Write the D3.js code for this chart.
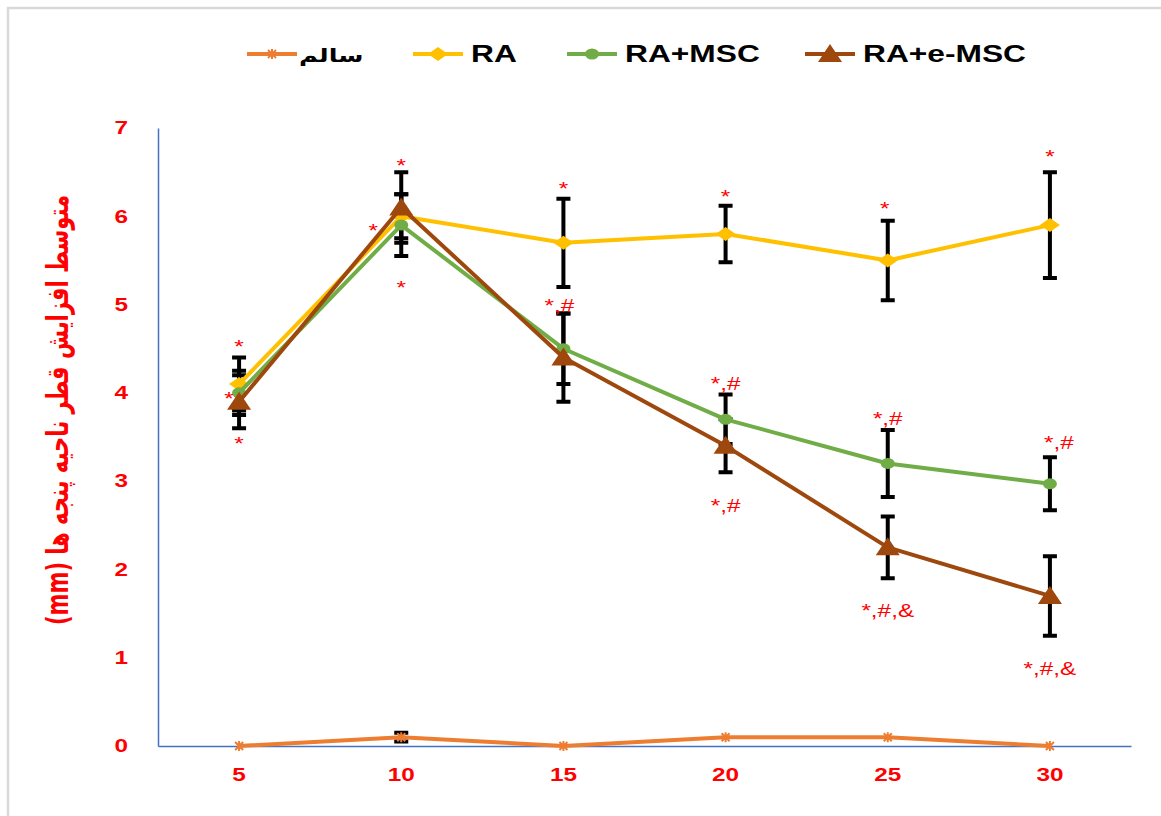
<!DOCTYPE html>
<html>
<head>
<meta charset="utf-8">
<script src="https://cdn.jsdelivr.net/npm/d3@7"></script>
<style>
  body { margin: 0; background: #fff; }
  svg { display: block; }
</style>
</head>
<body>
<div id="chart"></div>
<script>
// ---- data ----
const days = ["5", "10", "15", "20", "25", "30"];
const seriesNames = ["سالم", "RA", "RA+MSC", "RA+e-MSC"];
const healthy = [0, 0.1, 0, 0.1, 0.1, 0];
const healthySD = [0, 0.05, 0, 0, 0, 0];
const ra = [4.1, 6.0, 5.7, 5.8, 5.5, 5.9];
const raSD = [0.3, 0.25, 0.5, 0.32, 0.45, 0.6];
const raMsc = [4.0, 5.9, 4.5, 3.7, 3.2, 2.97];
const raMscSD = [0.25, 0.35, 0.4, 0.28, 0.38, 0.3];
const raEmsc = [3.9, 6.1, 4.4, 3.4, 2.25, 1.7];
const raEmscSD = [0.3, 0.4, 0.5, 0.3, 0.35, 0.45];
const yTicks = [0, 1, 2, 3, 4, 5, 6, 7];
// significance marks: day, y value of text baseline, label, small x nudge
const marks = [
  { day: "5", y: 4.45, t: "*", dx: 0 },
  { day: "5", y: 3.86, t: "*", dx: -10 },
  { day: "5", y: 3.35, t: "*", dx: 0 },
  { day: "10", y: 6.5, t: "*", dx: 0 },
  { day: "10", y: 5.76, t: "*", dx: -28 },
  { day: "10", y: 5.12, t: "*", dx: 0 },
  { day: "15", y: 6.24, t: "*", dx: 0 },
  { day: "15", y: 4.92, t: "*,#", dx: -4 },
  { day: "20", y: 6.15, t: "*", dx: 0 },
  { day: "20", y: 4.03, t: "*,#", dx: 0 },
  { day: "20", y: 2.65, t: "*,#", dx: 0 },
  { day: "25", y: 6.01, t: "*", dx: -3 },
  { day: "25", y: 3.64, t: "*,#", dx: 0 },
  { day: "25", y: 1.46, t: "*,#,&", dx: 0 },
  { day: "30", y: 6.6, t: "*", dx: 0 },
  { day: "30", y: 3.36, t: "*,#", dx: 9 },
  { day: "30", y: 0.8, t: "*,#,&", dx: 0 }
];

const colors = ["#ED7D31", "#FFC000", "#70AD47", "#9E480E"];
const shapes = ["times", "diamond", "circle", "triangle"];

const width = 1161, height = 816;
const plot = { left: 158, right: 1131, top: 128, bottom: 746 };
const sx = 1.35; // the original is stretched sideways

const svg = d3.select("#chart").append("svg")
  .attr("width", width).attr("height", height);

// frame of the picture
svg.append("path")
  .attr("d", `M8,${height + 5} V8 H${width + 5}`)
  .attr("fill", "none").attr("stroke", "#d9d9d9").attr("stroke-width", 2.5);

const x = d3.scaleBand().domain(days).range([plot.left, plot.right]).padding(0);
const cx = d => x(d) + x.bandwidth() / 2;
const y = d3.scaleLinear().domain([0, 7]).range([plot.bottom, plot.top]);

// axes
const yAxis = svg.append("g")
  .attr("transform", `translate(${plot.left},0)`)
  .call(d3.axisLeft(y).tickValues(yTicks).tickSize(0).tickPadding(30).tickFormat(d3.format("d")));
yAxis.select(".domain").attr("stroke", "#4472C4").attr("stroke-width", 1.5);
yAxis.selectAll("text")
  .attr("fill", "#FF0000").attr("font-family", "Liberation Sans, Arial, sans-serif")
  .attr("font-weight", "bold").attr("font-size", 18)
  .attr("x", -30 / sx).attr("transform", `scale(${sx},1)`);

const xAxis = svg.append("g")
  .attr("transform", `translate(0,${plot.bottom})`)
  .call(d3.axisBottom(x).tickSize(0).tickPadding(22));
xAxis.select(".domain").attr("stroke", "#4472C4").attr("stroke-width", 1.5);
xAxis.selectAll("text")
  .attr("fill", "#FF0000").attr("font-family", "Liberation Sans, Arial, sans-serif")
  .attr("font-weight", "bold").attr("font-size", 18)
  .attr("transform", `scale(${sx},1)`);

// y title
svg.append("text")
  .attr("transform", `translate(68,410) rotate(-90) scale(1,${sx})`)
  .attr("text-anchor", "middle")
  .attr("fill", "#FF0000")
  .attr("font-family", "DejaVu Sans, sans-serif")
  .attr("font-weight", "bold")
  .attr("font-size", 22)
  .attr("direction", "rtl")
  .attr("textLength", 430).attr("lengthAdjust", "spacingAndGlyphs")
  .text("متوسط افزایش قطر ناحیه پنجه ها (mm)");

const series = [
  { name: seriesNames[0], v: healthy, sd: healthySD },
  { name: seriesNames[1], v: ra, sd: raSD },
  { name: seriesNames[2], v: raMsc, sd: raMscSD },
  { name: seriesNames[3], v: raEmsc, sd: raEmscSD }
];

function marker(g, shape, color) {
  if (shape === "times") {
    g.append("path").attr("d", "M-4,-4L4,4M-4,4L4,-4M0,-5V5")
      .attr("stroke", color).attr("stroke-width", 2).attr("fill", "none");
  } else if (shape === "diamond") {
    g.append("path").attr("d", "M-10,0L0,-7L10,0L0,7Z").attr("fill", color);
  } else if (shape === "circle") {
    g.append("ellipse").attr("rx", 7).attr("ry", 5.5).attr("fill", color);
  } else {
    g.append("path").attr("d", "M-12,8L0,-10L12,8Z").attr("fill", color);
  }
}

// error bars
const eb = svg.append("g").attr("stroke", "#000").attr("stroke-width", 4).attr("fill", "none");
series.forEach(s => {
  s.v.forEach((v, i) => {
    if (!s.sd[i]) return;
    const xc = cx(days[i]), y0 = y(v - s.sd[i]), y1 = y(v + s.sd[i]);
    eb.append("path")
      .attr("d", `M${xc},${y0}V${y1}M${xc - 7},${y0}H${xc + 7}M${xc - 7},${y1}H${xc + 7}`);
  });
});

// lines and markers
const line = d3.line().x((d, i) => cx(days[i])).y(d => y(d));
series.forEach((s, k) => {
  svg.append("path").datum(s.v)
    .attr("d", line)
    .attr("fill", "none").attr("stroke", colors[k])
    .attr("stroke-width", 4).attr("stroke-linejoin", "round");
  s.v.forEach((v, i) => {
    const g = svg.append("g").attr("transform", `translate(${cx(days[i])},${y(v)})`);
    marker(g, shapes[k], colors[k]);
  });
});

// significance labels
svg.append("g").selectAll("text").data(marks).join("text")
  .attr("transform", d => `translate(${cx(d.day) + d.dx},${y(d.y)}) scale(${sx},1)`)
  .attr("text-anchor", "middle")
  .attr("fill", "#FF0000")
  .attr("font-family", "Liberation Sans, Arial, sans-serif")
  .attr("font-size", 18)
  .text(d => d.t);

// legend
const legendX = [247, 413, 567, 805];
const legend = svg.append("g").attr("transform", "translate(0,54)");
series.forEach((s, k) => {
  const g = legend.append("g").attr("transform", `translate(${legendX[k]},0)`);
  g.append("line").attr("x1", 0).attr("x2", 50)
    .attr("stroke", colors[k]).attr("stroke-width", 4);
  const m = g.append("g").attr("transform", "translate(25,0)");
  marker(m, shapes[k], colors[k]);
  g.append("text")
    .attr("transform", `translate(${k === 0 ? 52 : 58},8) scale(${sx},1)`)
    .attr("fill", "#000")
    .attr("font-family", k === 0 ? "DejaVu Sans, sans-serif" : "Liberation Sans, Arial, sans-serif")
    .attr("font-weight", "bold")
    .attr("font-size", k === 0 ? 19 : 23.5)
    .text(s.name);
});
</script>
</body>
</html>
